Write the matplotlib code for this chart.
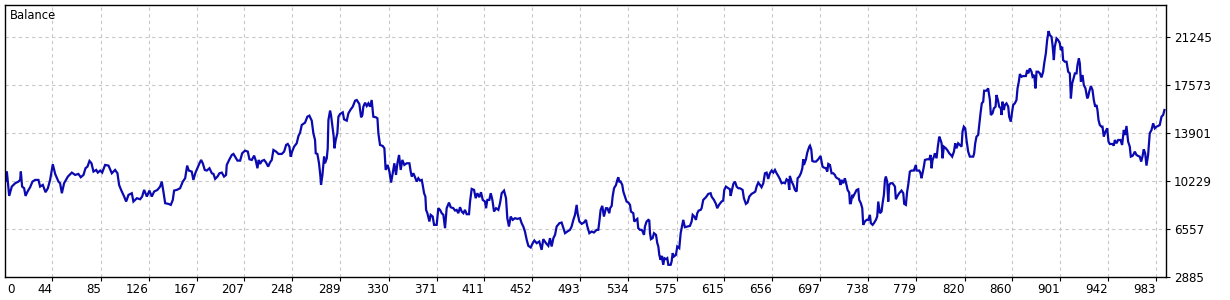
import matplotlib
matplotlib.use("Agg")
import matplotlib.pyplot as plt

# trade index (x) and balance (y)
trade = [
    3.2, 4.3, 5.2, 7.2, 9.4, 12.3, 15.1, 16.5, 17.1, 18.2, 19.9, 21.1, 22.8, 25.0, 27.0, 29.3,
    32.1, 33.5, 35.8, 38.1, 40.1, 42.0, 44.3, 46.3, 49.1, 50.5, 52.0, 53.9, 57.1, 60.5, 63.3,
    66.1, 68.1, 70.4, 72.1, 73.8, 75.5, 77.2, 78.9, 81.2, 82.6, 84.6, 86.3, 88.8, 91.7, 94.5,
    97.3, 99.3, 100.7, 102.4, 105.0, 106.7, 108.7, 111.5, 112.9, 115.8, 118.6, 120.3, 122.0,
    124.3, 126.5, 128.5, 130.5, 133.3, 135.6, 137.0, 138.4, 139.9, 142.7, 144.7, 146.4, 147.5,
    149.8, 152.6, 154.9, 156.9, 158.6, 160.0, 162.5, 163.9, 165.7, 169.1, 170.5, 171.9, 173.6,
    175.3, 177.6,
    179.6, 181.0, 182.4, 184.4, 186.1, 188.1, 190.0, 191.7, 192.3, 194.6, 196.6, 198.0,
    199.4, 201.4, 203.7, 205.4, 207.9, 210.2, 211.6, 213.6, 215.6, 217.0, 218.4, 219.5, 220.7,
    222.1, 224.1, 225.8, 227.5, 229.2, 230.6, 232.0, 234.3, 236.3, 239.1, 241.1, 242.8, 244.2,
    245.6, 246.7, 247.9, 249.6, 251.8, 253.3, 254.7, 256.1, 258.9, 260.9, 262.6, 264.6, 266.0,
    267.4, 268.0, 269.4, 270.8, 272.0, 272.5, 273.7, 274.5, 275.1, 275.9, 277.4, 278.2, 278.8,
    280.2, 281.0, 282.2, 283.3, 283.9, 285.0, 286.4, 287.3, 288.7, 291.0, 292.1, 294.4, 295.8,
    297.8, 299.5, 301.5, 302.9, 305.1, 306.6, 307.7, 308.5, 310.0, 311.4, 312.8, 314.2, 315.6,
    317.0, 319.3, 320.5, 321.3, 322.7, 325.0, 326.4, 327.5, 329.2, 330.7, 332.1, 333.5, 334.9,
    336.3, 337.5, 338.9, 340.3, 341.7, 343.4, 345.4, 347.7,
    348.8, 349.7, 351.1, 352.5, 353.9, 355.3, 356.8, 358.2, 359.0, 360.2, 361.3, 361.9, 363.0,
    364.7, 365.8, 367.5, 368.7, 370.9, 372.3, 373.8, 375.2, 376.6, 378.0, 379.4, 381.4, 382.8,
    385.1, 386.5, 387.9, 389.3, 390.8, 392.2, 393.6, 395.0, 396.4, 398.4, 399.3, 400.7, 402.7,
    404.1, 405.5, 407.2, 408.6, 410.1, 412.0, 412.9, 414.0, 415.7, 416.9, 418.3, 419.7, 421.4,
    423.4, 424.8, 426.2, 428.2, 429.9, 431.0, 432.4, 433.9, 435.6, 437.5, 439.5, 441.8, 443.2,
    444.6, 446.0, 447.5, 448.9, 450.9, 452.6, 454.0, 456.0, 458.2, 460.2, 461.6, 463.9, 465.9,
    467.3, 468.7, 470.2, 471.6, 473.0, 475.3, 477.2, 478.7, 480.1, 482.1, 484.3, 485.7, 487.2,
    488.6, 490.0, 490.8, 492.3, 494.3, 496.2, 497.9, 499.1, 500.8, 502.8, 504.7, 507.0, 508.4,
    509.3, 510.4, 511.8, 513.2, 514.9, 516.1, 517.8,
    518.4, 519.8, 520.6, 521.8, 523.5, 524.6, 525.4, 526.3, 527.4, 528.8, 529.7, 531.1, 532.5,
    534.0, 535.4, 536.2, 538.2, 539.0, 540.5, 541.6, 542.4, 543.9, 545.3, 546.1, 547.3, 548.1,
    549.5, 551.0, 551.8, 552.4, 553.2, 554.6, 555.8, 557.5, 558.6, 559.5, 560.3, 561.4, 562.3,
    563.7, 564.6, 566.0, 567.1, 568.0, 570.0, 570.8, 571.7, 572.8, 574.5, 575.6, 577.3, 578.5,
    579.6, 580.7, 582.1, 584.1, 586.4, 587.8, 588.7, 590.1, 591.5, 592.6, 593.8, 595.5, 596.3,
    597.7, 600.0, 602.0, 604.0, 604.8, 606.8, 608.5, 609.6, 611.1, 613.3, 614.7, 615.6, 617.0,
    619.0, 620.4, 621.0, 621.8, 623.3, 624.7, 626.1, 627.5, 628.9, 631.2, 632.3, 634.0, 635.4,
    636.9, 638.8, 640.8, 642.0, 643.1, 644.5, 646.0, 647.3, 648.8, 650.2, 651.6, 653.0, 654.4,
    655.9, 657.3, 658.7, 660.1, 661.5, 663.0, 664.4, 665.8, 667.2, 668.6, 670.0, 670.9, 671.4,
    672.9, 674.3, 675.7, 677.1, 678.0, 679.4, 680.8, 682.0, 682.8, 683.4, 685.1, 686.2, 687.9,
    688.5, 689.6, 690.5, 691.9, 693.6, 695.6, 697.5, 698.4, 699.2, 700.4, 702.1, 703.2, 704.1,
    705.5, 706.9, 708.3, 709.7, 710.6, 711.7, 713.4, 714.5, 715.4, 716.8, 718.2, 719.6, 720.5,
    721.9, 722.5, 723.3, 724.5, 725.3, 726.7, 728.2, 729.6, 730.4, 731.8, 733.0, 733.8, 735.2,
    736.7, 738.1, 739.5, 740.3, 741.8, 742.9, 744.6, 745.7, 746.6, 748.0, 749.4, 750.3, 751.4,
    752.3, 753.1, 754.2, 755.1, 755.9, 757.1, 758.8, 760.8, 761.6, 762.7, 764.4, 766.4, 767.9,
    768.7, 770.1, 771.2, 772.1, 773.5, 774.9, 776.9, 778.6, 779.2, 781.5, 782.6, 783.4, 784.3,
    785.4, 786.3, 788.3, 790.0, 791.1, 792.0, 792.8, 794.0, 794.8, 796.2, 797.3, 798.5, 799.6,
    800.5, 801.3, 802.4, 804.1, 805.3, 807.0, 808.4, 809.5, 811.0, 812.1, 813.2, 814.6, 816.0,
    817.5, 818.3, 819.4, 820.6, 821.7, 823.1, 824.5, 826.0, 827.4, 828.2, 829.1, 830.2, 831.6,
    832.5, 833.6, 834.7, 835.9, 836.7, 838.7, 840.1, 841.6, 842.4, 843.8, 845.0, 846.4, 847.2,
    848.4, 849.5, 850.9, 851.5, 852.3, 853.5, 854.3, 855.7, 857.2, 858.0,
    859.4, 860.3, 861.4, 862.8, 864.2, 865.1, 866.2, 867.1, 868.5, 869.9, 872.2, 873.3, 874.2,
    875.6, 877.0, 877.9, 879.3, 880.4, 881.3, 882.7, 884.1, 885.5, 886.9, 887.8, 889.2, 890.3,
    891.5, 892.6, 894.0, 894.9, 896.0, 896.8, 898.3, 899.7, 901.1, 901.9, 903.1, 903.9, 905.4,
    906.8, 908.2, 909.6, 910.5, 911.6, 912.4, 913.9, 915.3, 916.1, 917.3, 918.1, 919.0, 920.4,
    921.5, 922.9, 924.4, 925.2, 926.1, 927.5, 928.9, 930.0, 931.2, 932.3, 933.1, 934.0, 935.1,
    936.5, 937.4, 938.5, 939.9, 941.4, 942.5, 943.6, 945.9, 947.0, 947.9, 949.3, 950.7, 952.7,
    954.1, 955.5, 956.7, 957.8, 959.2, 960.6, 961.5, 962.9, 964.0, 964.9, 966.3, 967.7, 969.1,
    970.3, 971.4, 972.5, 973.7, 974.8, 976.2, 977.6, 979.1, 980.5, 981.9, 983.3, 984.7, 986.1,
    987.6, 989.0, 990.1,
]

balance = [
    10921, 10156, 10921, 9059, 9773, 10028, 10156, 10283, 10921, 9773, 9646, 9059, 9391, 9722,
    10156, 10283, 10283, 9773, 9901, 9340, 9646, 10283, 11482, 10742, 10156, 10028, 9263, 10028,
    10538, 10844, 10666, 10742, 10487, 10666, 11176, 11303, 11737, 11558, 10921, 11048, 10844,
    11000, 10844, 11431, 11380, 10793, 11048, 10793, 9901, 9518, 9008, 8626, 9136, 9263, 8626,
    8881, 8804, 9008, 9518, 9008, 9467, 9008, 9391, 9518, 9773, 10156, 9391, 8498, 8447, 8371,
    8753, 9467, 9518, 9646, 10156, 10411, 11380, 11000, 10921, 10283, 10844, 11558, 11813, 11558,
    11048, 11000, 11176,
    10793, 10742, 10360, 10538, 10793, 10844, 10538, 10666, 11431, 11864, 12195, 12272,
    12068, 11762, 11762, 12323, 12527, 12451, 11864, 11813, 12145, 11762, 11176, 11813, 11507,
    11737, 11813, 11609, 11303, 11635, 11813, 12578, 12451, 12272, 12272, 12451, 12961, 13037,
    12833, 12068, 12451, 12833, 13088, 13649, 13904, 14491, 14669, 15128, 15205, 14822, 13853,
    13343, 12323, 12272, 11558, 10538, 9901, 10666, 11431, 12068, 11558, 11941, 12706, 14873,
    15587, 15256, 14363, 13598, 12706, 13343, 13853, 15128, 15332, 15460, 14924, 14822, 15383,
    15689, 15893, 16352, 16403, 16097, 15077, 15256, 15893, 16199, 15944, 16148, 15893, 16403,
    15128, 15077, 15001, 13853, 12961, 12884, 12706, 11048, 11431, 10921, 10079, 10793, 11558,
    10666, 11558, 12195, 11048, 11813, 11431, 11558, 11558,
    10921, 10538, 10793, 10487, 10156, 10411, 10232, 10283, 9901, 9263, 9008, 7988, 7733,
    7096, 7606, 7478, 6841, 6841, 8116, 7988, 7733, 7606, 6586, 8116, 8549, 8192,
    8116, 7937, 7988, 7733, 8192, 7861, 7733, 7988, 7657, 7657, 8626, 9595, 9518,
    8881, 9263, 8957, 9340, 8753, 8626, 8116, 8753, 8753, 9263, 8753, 7861, 8116,
    7988, 8498, 9263, 9467, 8881, 7351, 6713, 7478, 7223, 7351, 7300, 7351, 6968,
    6713, 6331, 5693, 5234, 5107, 5438, 5642, 5438, 5566, 4928, 5744, 5438, 5234,
    5821, 5183, 5821, 6076, 6713, 6968, 7019, 6586, 6203, 6331, 6458, 6713, 7223,
    7606, 8371, 7733, 7096, 6917, 7019, 7223, 6713, 6203, 6331, 6254, 6458, 6458,
    7096, 7988, 8294, 7478, 8116, 8116, 7733,
    8116, 8294, 9008, 9646, 9901, 10283, 10487, 10156, 10156, 9901, 9391, 9008, 8626,
    8549, 8371, 7861, 7733, 7096, 7223, 7300, 6586, 6458, 6458, 6331, 6076, 6713,
    7096, 7223, 7172, 6203, 5744, 5821, 6203, 6076, 5438, 5183, 4545, 4163, 4469,
    3780, 4290, 4214, 4290, 3780, 3780, 4036, 4673, 4418, 4545, 5183, 5056, 6203,
    6713, 7223, 6662, 6713, 6764, 7096, 7606, 7478, 7223, 7733, 7937, 7988, 8116,
    8753, 8957, 9212, 9263, 9008, 8753, 8447, 8116, 8371, 8626, 8702, 9518, 9773,
    9646, 9569, 9059, 9391, 9977, 10156, 9773, 9646, 9646, 9518, 8881, 8447, 8549,
    9008, 9212, 9314, 9391, 9773, 10079, 9901, 9722, 10028, 10793, 10844, 10360, 10793,
    11000, 10844, 11048, 10793, 10589, 10334, 10028, 10079, 10028, 10334, 10232, 9518, 10589,
    10156, 9901, 9518, 9391, 10411, 10538, 10793, 11176, 11864, 11431, 11864, 12374, 12833,
    12910, 12629, 11737, 11686, 11686, 11864, 12119, 11686, 11303, 11227, 11176, 10921, 11507,
    11431, 10793, 10793, 10666, 10487, 10411, 10334, 9901, 10283, 10028, 10411, 9901, 9518,
    9314, 8498, 8498, 9136, 9008, 9263, 9518, 9569, 8753, 8498, 8116, 6841, 7096,
    7223, 7223, 7606, 6968, 6841, 6968, 7223, 7478, 8626, 7733, 7861, 8498, 9136,
    10283, 10538, 10156, 8626, 9901, 10028, 10028, 9773, 8804, 9008, 9263, 9467, 9263,
    8447, 8371, 9391, 9901, 10921, 11000, 11000, 11431, 11000, 11000, 10793, 10411, 10793,
    11303, 11813, 11864, 11864, 12195, 11176, 11813, 12068, 12323, 11941, 12833, 13598, 13343,
    13088, 11941, 12833, 12706, 12578, 12323, 12195, 12068, 12451, 13088, 12706, 13088, 12961,
    12833, 13980, 14363, 14236, 13343, 12451, 12068, 12068, 12068, 12323, 13088, 13598, 13726,
    14491, 15383, 16148, 16276, 17117, 17117, 17296, 16403, 15256, 15383, 15766, 15893, 16786,
    16403, 15893, 15766, 15256, 16276, 15638, 16021, 16148, 15893, 15128,
    14746, 15383, 16021, 16148, 16403, 17296, 17806, 18392, 18188, 18239, 18239, 18698, 18443,
    18826, 18571, 18188, 18316, 17296, 18571, 18571, 18443, 18137, 18571, 19208, 19973, 20993,
    21682, 21376, 21248, 20611, 19463, 20483, 21121, 20993, 20738, 20228, 20483, 19463, 19336,
    19336, 18571, 18443, 16531, 17678, 17933, 18443, 18443, 19081, 19591, 19208, 17806, 18316,
    17551, 17296, 16531, 16658, 17041, 17474, 17168, 16403, 15893, 16021, 15638, 14873, 14491,
    14363, 14363, 13598, 13980, 14236, 13216, 13037, 13037, 12910, 13343, 13088, 13343, 13343,
    12961, 14108, 13726, 14414, 13216, 12833, 12068, 12119, 12272, 12451, 12195, 12119, 12068,
    11686, 12068, 12629, 12323, 11380, 12195, 13853, 14108, 14618, 14236, 14363, 14414, 14491,
    15128, 15256, 15638,
]

x_tick_values = [44, 85, 126, 167, 207, 248, 289, 330, 371, 411, 452, 493, 534, 575,
                 615, 656, 697, 738, 779, 820, 860, 901, 942, 983]
y_tick_values = [2885, 6557, 10229, 13901, 17573, 21245]
first_x_label = "0"
title_text = "Balance"

W, H = 1230, 300
fig = plt.figure(figsize=(W / 100, H / 100), dpi=100)
left_px, right_px, top_px, bottom_px = 4.5, 1165.5, 4.5, 276.5
ax = fig.add_axes([left_px / W, 1 - bottom_px / H,
                   (right_px - left_px) / W, (bottom_px - top_px) / H])

line_color = "#0A0AB0"
ax.plot(trade, balance, color=line_color, lw=1.6, solid_joinstyle="miter")

ax.set_xlim(trade[0], trade[-1] + 0.9)
ax.set_ylim(2885, 23720)

ax.set_xticks(x_tick_values)
ax.set_xticklabels([str(v) for v in x_tick_values], fontsize=8.6, ha="right")
ax.set_yticks(y_tick_values)
ax.set_yticklabels([str(v) for v in y_tick_values], fontsize=8.6)
ax.yaxis.tick_right()
ax.tick_params(axis="x", direction="out", length=3, width=0.8, pad=2, colors="black")
ax.tick_params(axis="y", direction="out", length=3, width=0.8, pad=3, colors="black")

ax.grid(True, color="#c8c8c8", linestyle=(0, (3, 3)), linewidth=0.8)
for s in ax.spines.values():
    s.set_color("black")
    s.set_linewidth(1.0)

# "0" label at the left edge, aligned with the other x tick labels
ax.annotate(first_x_label, xy=(0, 0), xycoords="axes fraction", xytext=(2, -5),
            textcoords="offset points", fontsize=8.6, ha="left", va="top")
ax.text(0.0045, 0.985, title_text, transform=ax.transAxes, fontsize=8.3, ha="left", va="top")

fig.savefig("out.png", dpi=100, facecolor="white")
